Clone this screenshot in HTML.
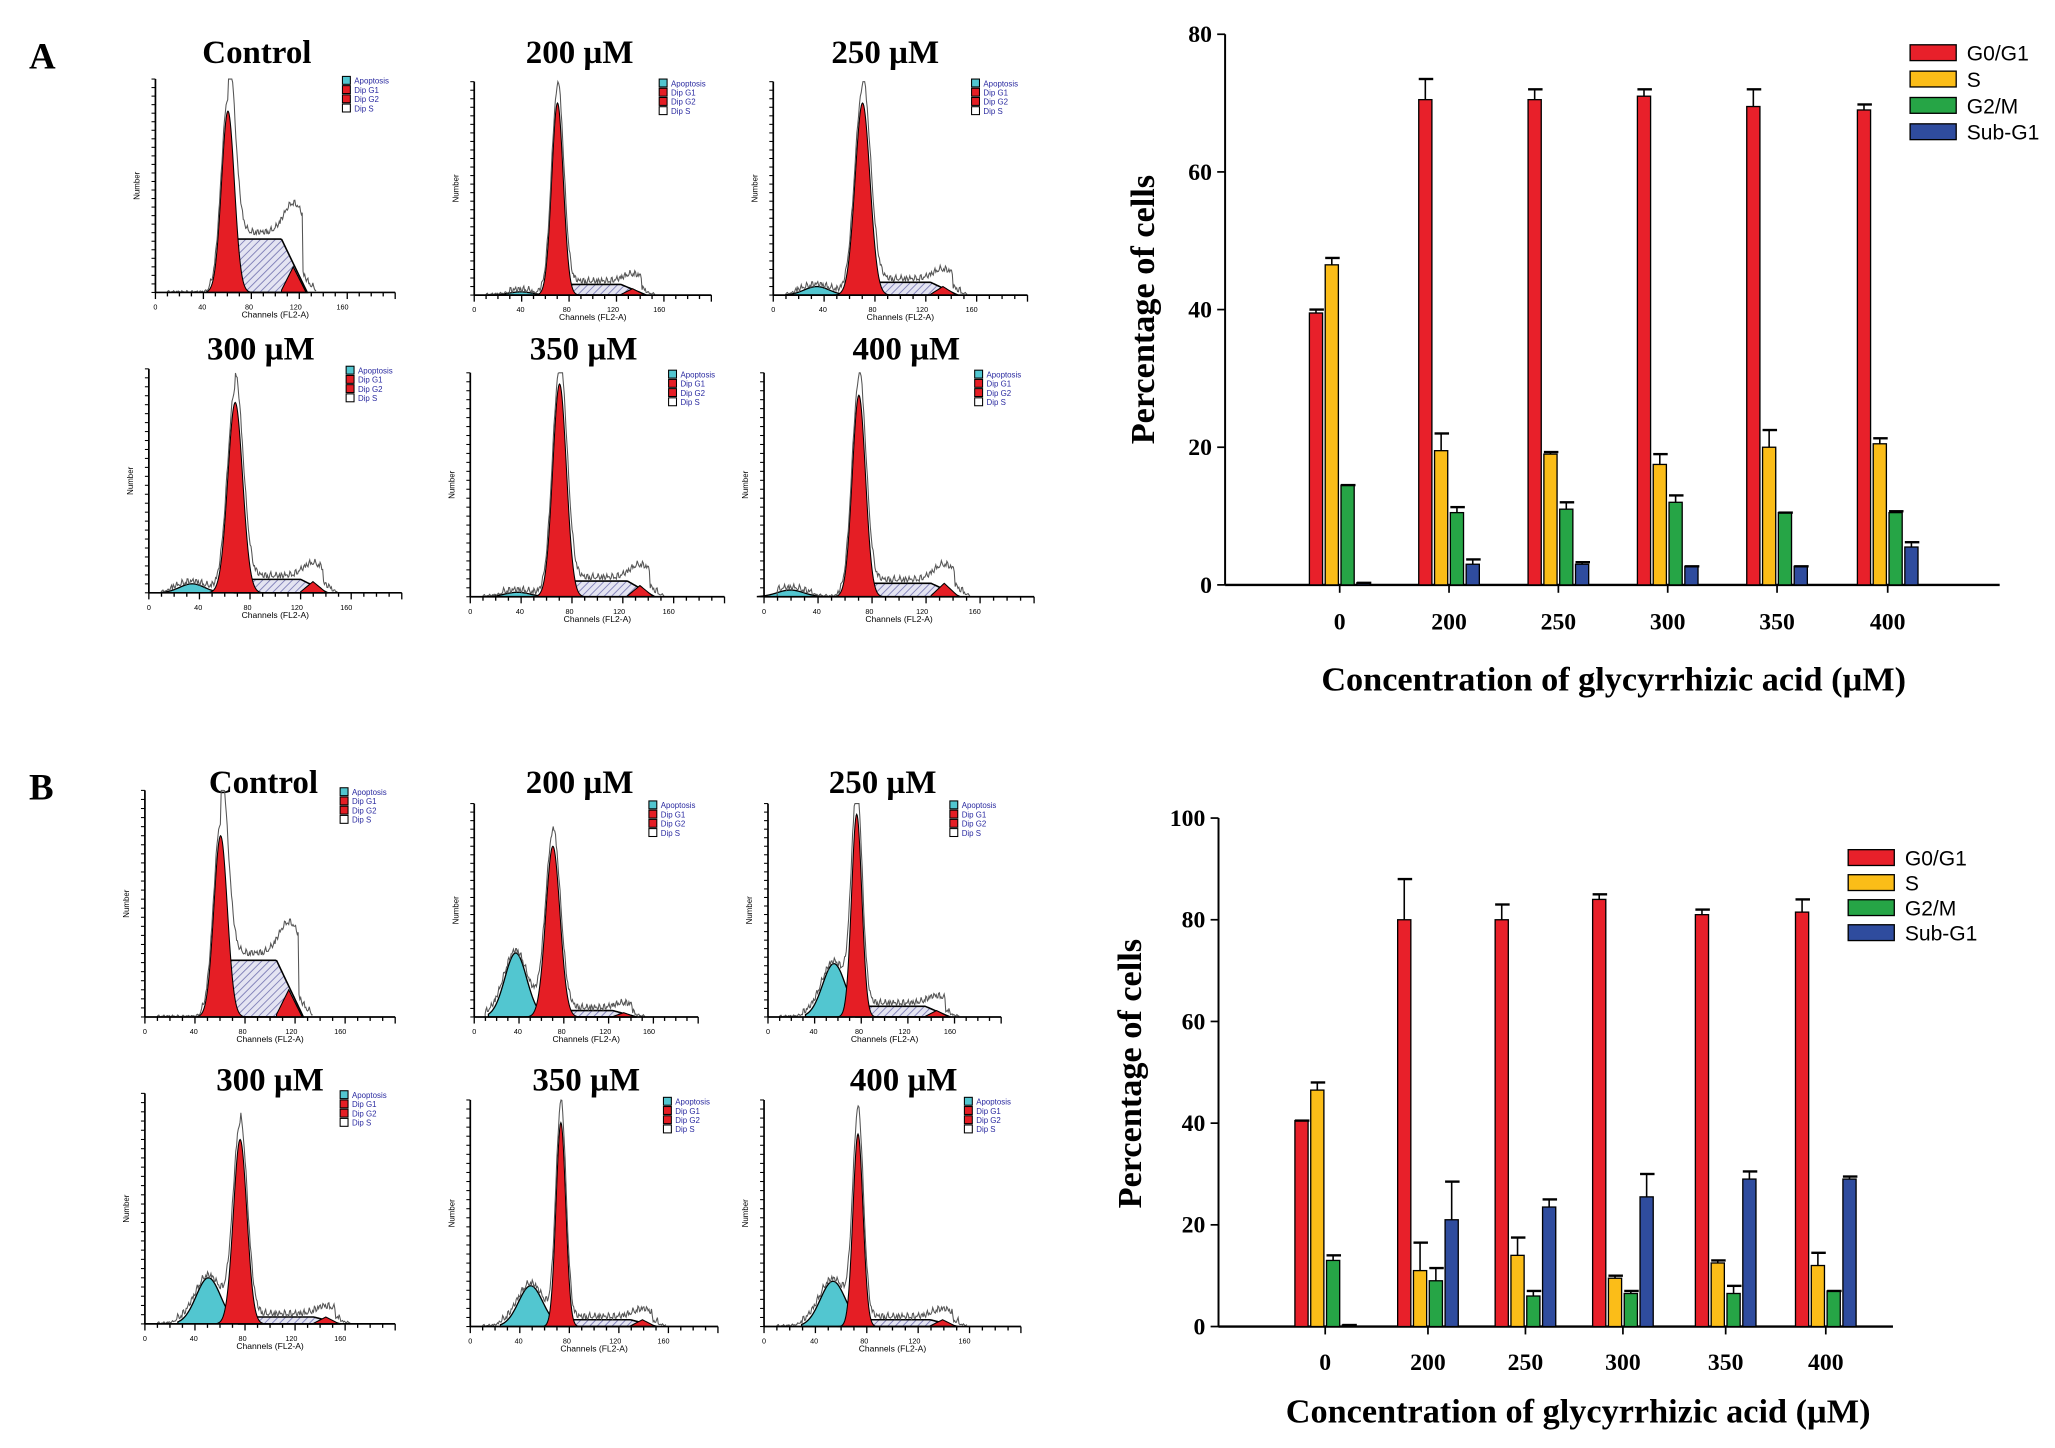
<!DOCTYPE html>
<html><head><meta charset="utf-8"><title>Cell cycle analysis</title>
<style>
html,body{margin:0;padding:0;background:#fff;}
svg{display:block;}
.ser{font-family:"Liberation Serif",serif;font-weight:bold;}
.san{font-family:"Liberation Sans",sans-serif;}
</style></head>
<body>
<svg id="fig" xmlns="http://www.w3.org/2000/svg" width="2055" height="1448" viewBox="0 0 1560 1099.2">
<defs>
<pattern id="hatch" patternUnits="userSpaceOnUse" width="4" height="4" patternTransform="rotate(45)">
<rect width="4" height="4" fill="#e4e4f2"/><line x1="0" y1="0" x2="0" y2="4" stroke="#8080b8" stroke-width="1.4"/>
</pattern>
</defs>
<text class="ser" x="22" y="52" font-size="28">A</text>
<text class="ser" x="22" y="607" font-size="28">B</text>
<g id="hists"></g>
<g id="barA"></g>
<g id="barB"></g>
</svg>
<script>
// ---- Bar chart data ----
const categories = ["0","200","250","300","350","400"];
const seriesNames = ["G0/G1","S","G2/M","Sub-G1"];
const seriesColors = ["#e8202a","#fbbd18","#26a546","#2f4c9e"];
const aG0 = [39.5,70.5,70.5,71,69.5,69];
const aS  = [46.5,19.5,19,17.5,20,20.5];
const aG2 = [14.5,10.5,11,12,10.5,10.5];
const aSub= [0.3,3,3,2.7,2.7,5.5];
const aG0e = [40,73.5,72,72,72,69.8];
const aSe  = [47.5,22,19.3,19,22.5,21.3];
const aG2e = [14.5,11.3,12,13,10.5,10.7];
const aSube= [0.3,3.7,3.3,2.7,2.7,6.2];
const aTicks = [0,20,40,60,80];
const bG0 = [40.5,80,80,84,81,81.5];
const bS  = [46.5,11,14,9.5,12.5,12];
const bG2 = [13,9,6,6.5,6.5,7];
const bSub= [0.3,21,23.5,25.5,29,29];
const bG0e = [40.5,88,83,85,82,84];
const bSe  = [48,16.5,17.5,10,13,14.5];
const bG2e = [14,11.5,7,7,8,7];
const bSube= [0.3,28.5,25,30,30.5,29.5];
const bTicks = [0,20,40,60,80,100];

// ---- Histogram panel parameters (channel units / fractions) ----
const histTitles = ["Control","200 µM","250 µM","300 µM","350 µM","400 µM","Control","200 µM","250 µM","300 µM","350 µM","400 µM"];
const histG1C = [62,72,72,70,72,72,62,72,78,78,75,75];
const histG1H = [0.85,0.9,0.9,0.85,0.95,0.9,0.8,0.8,0.95,0.8,0.9,0.85];
const histG1S = [5.5,5,6,6,5.5,5,5.5,6.5,4.5,5.5,4,4];
const histSL  = [0.25,0.05,0.06,0.06,0.07,0.06,0.25,0.03,0.05,0.03,0.03,0.03];
const histG2H = [0.12,0.03,0.04,0.05,0.05,0.06,0.12,0.02,0.03,0.03,0.03,0.03];
const histApH = [0,0.015,0.04,0.04,0.02,0.03,0,0.3,0.25,0.2,0.18,0.2];
const histApC = [35,40,35,35,38,20,35,38,58,52,50,55];

const NS="http://www.w3.org/2000/svg";
function mk(tag,attrs,parent){const e=document.createElementNS(NS,tag);for(const k in attrs)e.setAttribute(k,attrs[k]);parent.appendChild(e);return e;}

const hl=[
 [118,60,222,300,195,48],[360,62,224,540,440,48],[587,62,224,780,672,48],
 [113,280,450,305,198,273],[357,283,453,550,443,273],[580,283,453,785,688,273],
 [110,600,772,300,200,602],[360,610,772,530,440,602],[583,610,772,760,670,602],
 [110,830,1005,300,205,828],[357,835,1007,545,445,828],[580,835,1007,775,686,828]];
const hg=document.getElementById('hists');
function gauss(x,c,s){return Math.exp(-0.5*((x-c)/s)**2);}
hl.forEach((p,i)=>{
 const [x0,yt,yb,xe,tx,ty]=p;
 const g=mk('g',{},hg);
 
 
 const t=mk('text',{x:tx,y:ty,'font-size':25,'text-anchor':'middle',class:'ser'},g);t.textContent=histTitles[i];
 
 
 const pc=(xe-x0)/205, H=yb-yt;
 const X=c=>x0+c*pc, Y=f=>yb-f*H;
 const c1=histG1C[i], c2=c1*1.9, s=histG1S[i];
 let sp=`M${X(c1)},${yb}`;
 for(let c=c1;c<=c2+12;c+=1){let f=histSL[i]*(c<c1+8?(c-c1)/8:1)*(c>c2-10?Math.max(0,1-(c-(c2-10))/22):1);sp+=` L${X(c)},${Y(f)}`;}
 sp+=` L${X(c2+12)},${yb}Z`;
 mk('path',{d:sp,fill:'url(#hatch)',stroke:'#000','stroke-width':1.2},g);
 if(histApH[i]>0){let d=`M${X(histApC[i]-25)},${yb}`;for(let c=histApC[i]-25;c<=c1-s;c++){d+=` L${X(c)},${Y(histApH[i]*gauss(c,histApC[i],10))}`;}d+=` L${X(c1-s)},${yb}Z`;mk('path',{d,fill:'#52c6d0',stroke:'#000','stroke-width':1},g);}
 let d1=`M${X(c1-4*s)},${yb}`;for(let c=c1-4*s;c<=c1+4*s;c+=0.5)d1+=` L${X(c)},${Y(histG1H[i]*gauss(c,c1,s))}`;d1+=' Z';
 mk('path',{d:d1,fill:'#e51e25',stroke:'#000','stroke-width':0.8},g);
 let d2=`M${X(c2-10)},${yb}`;for(let c=c2-10;c<=c2+12;c+=0.5)d2+=` L${X(c)},${Y(histG2H[i]*Math.max(0,1-Math.abs(c-c2)/11))}`;d2+=' Z';
 mk('path',{d:d2,fill:'#e51e25',stroke:'#000','stroke-width':0.8},g);
 let o=`M${X(10)},${yb}`;
 for(let c=10;c<=c2+20;c+=0.7){let f=histG1H[i]*1.06*gauss(c,c1,s*1.05)+histSL[i]*(c>c1&&c<c2+8?1.08:0)+histG2H[i]*1.15*gauss(c,c2,8)+histApH[i]*gauss(c,histApC[i],11);f+=0.015*Math.abs(Math.sin(c*2.3)+Math.sin(c*5.1))*(f>0.01?1:0.3);o+=` L${X(c)},${Y(Math.min(f,1))}`;}
 mk('path',{d:o,fill:'none',stroke:'#555','stroke-width':0.8},g);
 mk('line',{x1:x0,y1:yt,x2:x0,y2:yb,stroke:'#000','stroke-width':1.3},g);
 mk('line',{x1:x0,y1:yb,x2:xe,y2:yb,stroke:'#000','stroke-width':1.3},g);
 for(let k=0;k<=20;k++){const xx=x0+k*(xe-x0)/20;mk('line',{x1:xx,y1:yb,x2:xx,y2:yb+(k%4==0?5:3),stroke:'#000','stroke-width':1},g);}
 for(let k=0;k<=25;k++){const yy=yb-k*H/25;mk('line',{x1:x0-3,y1:yy,x2:x0,y2:yy,stroke:'#000','stroke-width':0.8},g);}
 for(let k=0;k<5;k++){const tt=mk('text',{x:X(k*40),y:yb+13,'font-size':5.5,'text-anchor':'middle',class:'san'},g);tt.textContent=k*40;}
 const xl=mk('text',{x:(x0+xe)/2,y:yb+19,'font-size':6.5,'text-anchor':'middle',class:'san'},g);xl.textContent='Channels (FL2-A)';
 const yl=mk('text',{x:0,y:0,'font-size':6,'text-anchor':'middle',class:'san',transform:`translate(${x0-12},${(yt+yb)/2}) rotate(-90)`},g);yl.textContent='Number';
 const lx=x0+(xe-x0)*0.78, ly=yt-2;
 const lc=['#52c6d0','#e51e25','#e51e25','#fff'], ln=['Apoptosis','Dip G1','Dip G2','Dip S'];
 for(let k=0;k<4;k++){mk('rect',{x:lx,y:ly+k*7,width:6,height:6,fill:lc[k],stroke:'#000','stroke-width':0.8},g);const lt=mk('text',{x:lx+9,y:ly+k*7+5.5,'font-size':6,fill:'#2a2aa0',class:'san'},g);lt.textContent=ln[k];}
});

function bars(gid,cfg){
 const g=document.getElementById(gid);
 const {x0,x1,yTop,yBase,vmax,cx,ticks,vals,errs,tickY,titleX,titleY,ytX,ytY,legX,legY,legStep,bw,bs,name}=cfg;
 const yS=v=>yBase-(v/vmax)*(yBase-yTop);
 const ax=mk('g',{},g);
 
 
 mk('line',{x1:x0,y1:yTop,x2:x0,y2:yBase,stroke:'#000','stroke-width':1.5},ax);
 mk('line',{x1:x0,y1:yBase,x2:x1,y2:yBase,stroke:'#000','stroke-width':1.8},ax);
 ticks.forEach(t=>{const y=yS(t);mk('line',{x1:x0-6,y1:y,x2:x0,y2:y,stroke:'#000','stroke-width':1.3},ax);
  const tx=mk('text',{x:x0-10,y:y+6,'font-size':18,'text-anchor':'end',class:'ser'},ax);tx.textContent=t;
  
  });
 categories.forEach((c,i)=>{mk('line',{x1:cx[i],y1:yBase,x2:cx[i],y2:yBase+6,stroke:'#000','stroke-width':1.3},ax);
  const tx=mk('text',{x:cx[i],y:tickY,'font-size':18,'text-anchor':'middle',class:'ser'},ax);tx.textContent=c;
  
  });
 vals.forEach((ser,si)=>{ser.forEach((v,i)=>{
  const bx=cx[i]+(si-1.5)*bs-bw/2;
  const r=mk('rect',{x:bx,y:yS(v),width:bw,height:yBase-yS(v),fill:seriesColors[si],stroke:'#000','stroke-width':1},g);
  
  
  const e=errs[si][i];
  if(e>v+0.2){mk('line',{x1:bx+bw/2,y1:yS(v),x2:bx+bw/2,y2:yS(e),stroke:'#000','stroke-width':1.2},g);}
  mk('line',{x1:bx,y1:yS(e),x2:bx+bw+1,y2:yS(e),stroke:'#000','stroke-width':1.8},g);
 });});
 const xt=mk('text',{x:titleX,y:titleY,'font-size':26,'text-anchor':'middle',class:'ser'},g);xt.textContent='Concentration of glycyrrhizic acid (µM)';
 
 
 const yt=mk('text',{x:0,y:0,'font-size':26,'text-anchor':'middle',class:'ser',transform:`translate(${ytX},${ytY}) rotate(-90)`},g);yt.textContent='Percentage of cells';
 
 
 seriesNames.forEach((n,k)=>{const lg=mk('g',{},g);
  
  
  mk('rect',{x:legX,y:legY+k*legStep,width:35,height:12,fill:seriesColors[k],stroke:'#000','stroke-width':1},lg);
  const lt=mk('text',{x:legX+43,y:legY+k*legStep+12,'font-size':16,class:'san'},lg);lt.textContent=n;});
}
bars('barA',{name:'chart-a',x0:930,x1:1518,yTop:26,yBase:444,vmax:80,cx:[1017,1100,1183,1266,1349,1433],ticks:aTicks,
 vals:[aG0,aS,aG2,aSub],errs:[aG0e,aSe,aG2e,aSube],tickY:478,titleX:1225,titleY:524,ytX:876,ytY:235,legX:1450,legY:34,legStep:20,bw:10,bs:12});
bars('barB',{name:'chart-b',x0:925,x1:1437,yTop:621,yBase:1007,vmax:100,cx:[1006,1084,1158,1232,1310,1386],ticks:bTicks,
 vals:[bG0,bS,bG2,bSub],errs:[bG0e,bSe,bG2e,bSube],tickY:1040,titleX:1198,titleY:1080,ytX:866,ytY:815,legX:1403,legY:645,legStep:19,bw:10,bs:12});
</script>
</body></html>
